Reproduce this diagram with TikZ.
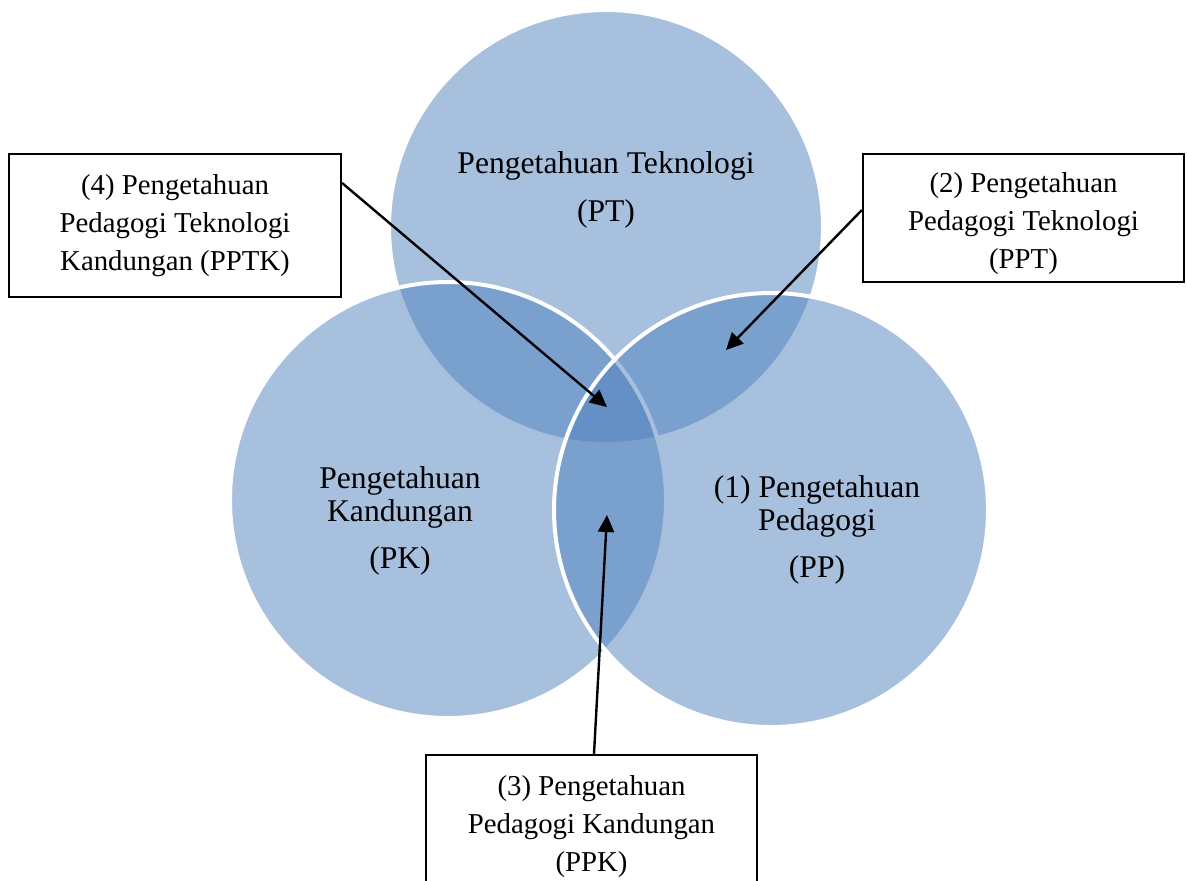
\documentclass[tikz,border=0pt]{standalone}
\usepackage{fontspec}
\setmainfont{Liberation Serif}
\usetikzlibrary{arrows.meta}
\definecolor{vennblue}{HTML}{4F81BD}
\tikzset{
  venn/.style={fill=vennblue, fill opacity=0.5, draw=white, line width=2pt},
  circtext/.style={align=center, font=\fontsize{15.8}{16.5}\selectfont, text=black},
  labelbox/.style={draw=black, line width=1.1pt, fill=white, align=center, inner sep=0pt,
    font=\fontsize{14.4}{19}\selectfont},
  pointer/.style={draw=black, line width=1.2pt, -{Triangle[length=8.5pt,width=8pt]}}
}
\begin{document}
\begin{tikzpicture}[x=0.5pt,y=-0.5pt]
\useasboundingbox (0,0) rectangle (1187,880);
% circles
\path[venn] (606,227) circle[radius=217];
\path[venn] (448,500) circle[radius=218];
\path[venn] (771,510) circle[radius=217];
% circle texts
\node[circtext] (pt) at (606,189.5) {Pengetahuan Teknologi\\[7.5pt](PT)};
\node[circtext] (pk) at (400,521) {Pengetahuan\\Kandungan\\[7pt](PK)};
\node[circtext] (pp) at (817,529.5) {(1) Pengetahuan\\Pedagogi\\[7pt](PP)};
% boxes
\node[labelbox, minimum width=166pt, minimum height=71.5pt] (b4) at (175,225.5)
  {(4) Pengetahuan\\Pedagogi Teknologi\\Kandungan (PPTK)\rule[-2.5pt]{0pt}{0pt}};
\node[labelbox, minimum width=160.5pt, minimum height=64pt] (b2) at (1023.5,218)
  {\rule{0pt}{16pt}(2) Pengetahuan\\Pedagogi Teknologi\\(PPT)};
\node[labelbox, minimum width=165.5pt, minimum height=68pt] (b3) at (591.5,823)
  {\rule{0pt}{13.5pt}(3) Pengetahuan\\Pedagogi Kandungan\\(PPK)};
% arrow ends
\coordinate (t4) at (607,407);
\coordinate (t2) at (726,350);
\coordinate (t3) at (607,515);
\coordinate (s4) at (b4.east |- 0,183);
\coordinate (s2) at (b2.west |- 0,210);
\coordinate (s3) at (b3.north -| 594,0);
\draw[pointer] (s4) -- (t4);
\draw[pointer] (s2) -- (t2);
\draw[pointer] (s3) -- (t3);
\end{tikzpicture}
\end{document}
